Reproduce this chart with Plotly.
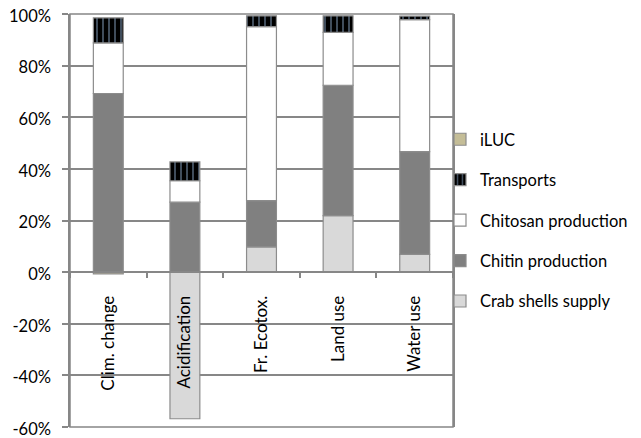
import plotly.graph_objects as go

categories = ["Clim. change", "Acidification", "Fr. Ecotox.", "Land use", "Water use"]
crab_shells = [0, -56.8, 9.8, 21.9, 6.9]
chitin = [69.2, 27.1, 17.9, 50.5, 39.8]
chitosan = [19.6, 8.3, 67.4, 20.5, 51.1]
transports = [9.7, 7.3, 4.2, 6.4, 1.4]
iluc = [-0.7, 0, 0, 0, 0]
y_ticks = [-60, -40, -20, 0, 20, 40, 60, 80, 100]

FONT = "Lato"
OUTLINE = "#8c8c8c"
GRID = "#878787"

# plot area of a 641x438 page (body margin removed below)
PLOT_L, PLOT_R, PLOT_T, PLOT_B = 70, 453, 14, 427
W, H = 641, 438


def nz(vals):
    return [v if v != 0 else None for v in vals]


# (name, values, colour, pattern, legend rank)
series = [
    ("Crab shells supply", crab_shells, "#d9d9d9", None, 5),
    ("Chitin production", chitin, "#808080", None, 4),
    ("Chitosan production", chitosan, "#ffffff", None, 3),
    ("Transports", transports, "#000000",
     dict(shape="|", fgcolor="#8eaacb", bgcolor="#000000", size=6, solidity=0.3), 2),
    ("iLUC", iluc, "#c4bd97", None, 1),
]

fig = go.Figure()
for name, vals, color, pattern, rank in series:
    marker = dict(color=color, line=dict(color=OUTLINE, width=1.2))
    if pattern:
        marker["pattern"] = pattern
    fig.add_trace(go.Bar(
        x=categories, y=nz(vals), name=name, legendgroup=name, legendrank=rank,
        marker=marker, width=0.39,
    ))

plot_w = PLOT_R - PLOT_L
plot_h = PLOT_B - PLOT_T

fig.update_layout(
    barmode="relative",
    width=W, height=H,
    margin=dict(l=PLOT_L, r=W - PLOT_R, t=PLOT_T, b=H - PLOT_B, autoexpand=False),
    paper_bgcolor="white", plot_bgcolor="white",
    font=dict(family=FONT, size=17, color="#000000"),
    showlegend=True,
    legend=dict(
        x=(440 - PLOT_L) / plot_w, xanchor="left",
        y=(PLOT_B - 122) / plot_h, yanchor="top",
        traceorder="grouped",
        tracegroupgap=16,
        font=dict(family=FONT, size=16.5, color="#000000"),
        itemwidth=30,
        bgcolor="rgba(0,0,0,0)",
    ),
    xaxis=dict(
        anchor="free", position=60 / 160, automargin=False,
        showline=True, linecolor=GRID, linewidth=1.5,
        ticks="outside", tickson="boundaries", ticklen=5, tickcolor=GRID, tickwidth=1.5,
        tickangle=-90, ticklabelstandoff=16,
        tickfont=dict(family=FONT, size=17, color="#000000"),
        showgrid=False,
    ),
    yaxis=dict(
        range=[-60, 100], tickvals=y_ticks, automargin=False,
        ticktext=[f"{v}%" for v in y_ticks],
        showgrid=True, gridcolor=GRID, gridwidth=1.5,
        zeroline=False,
        showline=True, linecolor=GRID, linewidth=1.5, mirror=True,
        ticks="outside", ticklen=6, tickcolor=GRID, tickwidth=1.5,
        ticklabelstandoff=8, ticklabelshift=2, ticklabeloverflow="allow",
        tickfont=dict(family=FONT, size=16.5, color="#000000"),
    ),
    shapes=[dict(
        type="rect", xref="paper", yref="paper", x0=0, x1=1, y0=0, y1=1,
        line=dict(color=GRID, width=1.5), fillcolor="rgba(0,0,0,0)", layer="above",
    )],
)

fig.write_html(
    "out.html",
    config={"displayModeBar": False},
    post_script="document.body.style.margin='0';document.body.style.overflow='hidden';",
)
